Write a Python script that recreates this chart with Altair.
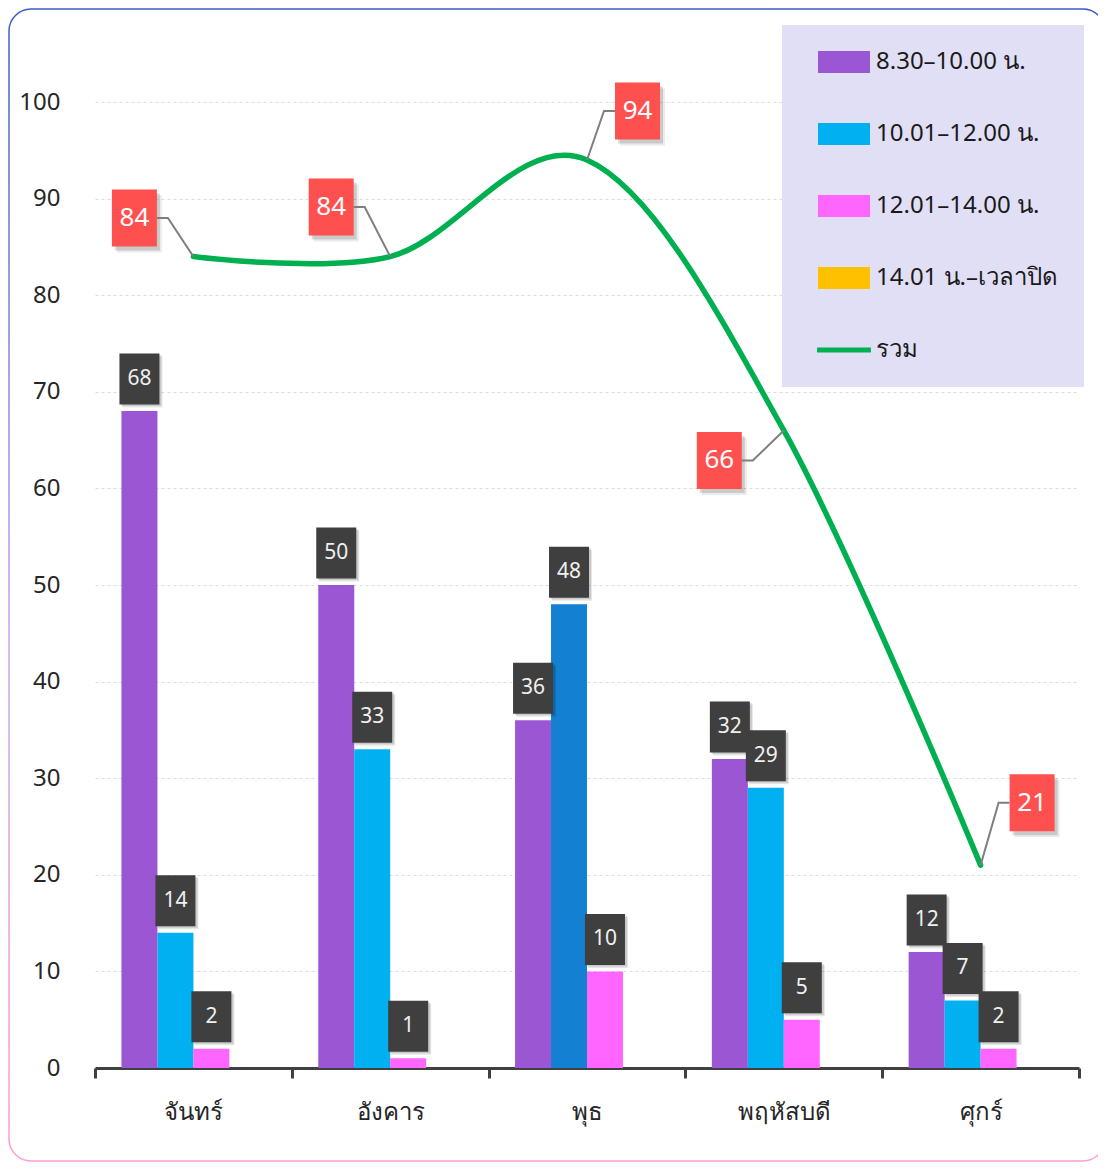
import altair as alt
import pandas as pd

# ---------------- data ----------------
days = ["จันทร์", "อังคาร", "พุธ", "พฤหัสบดี", "ศุกร์"]
series_names = ["8.30–10.00 น.", "10.01–12.00 น.", "12.01–14.00 น.", "14.01 น.–เวลาปิด"]
s_0830 = [68, 50, 36, 32, 12]
s_1001 = [14, 33, 48, 29, 7]
s_1201 = [2, 1, 10, 5, 2]
s_1401 = [0, 0, 0, 0, 0]
totals = [84, 84, 94, 66, 21]
total_name = "รวม"

# ---------------- styles ----------------
FONT = "Noto Sans"
bar_colors = ["#9B57D3", "#00B0F0", "#FF66FF", "#FFC000"]
line_color = "#00B050"
highlight_color = "#1380D2"
callout_fill = "#FF5050"
label_box_fill = "#3F3F3F"
# callout box centre offsets (pixels) relative to the total point
callout_dx = [-59, -59, 50.5, -64.5, 51.5]
callout_dy = [-38.5, -49.5, -49, 30, -62.5]

series_values = [s_0830, s_1001, s_1201, s_1401]
rows = []
for si, name in enumerate(series_names):
    for di, d in enumerate(days):
        rows.append({"day": d, "series": name, "value": series_values[si][di]})
bars_df = pd.DataFrame(rows)
tot_df = pd.DataFrame({"day": days, "value": totals})

x_enc = alt.X(
    "day:N", sort=days,
    scale=alt.Scale(paddingInner=0, paddingOuter=0),
    axis=alt.Axis(title=None, labelFontSize=24, labelColor="#262626", labelFont=FONT,
                  labelPadding=22, labelAngle=0, domainColor="#404040", domainWidth=3,
                  tickColor="#404040", tickWidth=3, tickSize=10, tickBand="extent", grid=False),
)
y_enc = alt.Y(
    "value:Q",
    scale=alt.Scale(domain=[0, 100], nice=False),
    axis=alt.Axis(title=None, values=list(range(0, 101, 10)), labelFontSize=24,
                  labelColor="#262626", labelFont=FONT, labelPadding=35, domain=False,
                  ticks=False, gridColor="#DCDCDC", gridDash=[3, 3], gridWidth=1),
)
xoff = alt.XOffset("series:N", sort=series_names,
                   scale=alt.Scale(paddingInner=0, paddingOuter=0.736))

rect_shape = "M-2.364,-1H2.364V1H-2.364Z"
line_shape = "M-2.45,-0.23H2.45V0.23H-2.45Z"
legend = alt.Legend(
    title=None, orient="none", legendX=687, legendY=-77, fillColor="#E1DFF5",
    padding=25, rowPadding=48, labelFontSize=24, labelColor="#1A1A1A", labelFont=FONT,
    symbolSize=484, symbolOffset=25, labelOffset=20, labelLimit=400, symbolOpacity=1,
    symbolType=alt.ExprRef(expr=f"datum.value === '{total_name}' ? '{line_shape}' : '{rect_shape}'"),
)
color_enc = alt.condition(
    f"datum.day === '{days[2]}' && datum.series === '{series_names[1]}'",
    alt.value(highlight_color),
    alt.Color("series:N",
              scale=alt.Scale(domain=series_names + [total_name], range=bar_colors + [line_color]),
              legend=legend),
)

bars = alt.Chart(bars_df).mark_bar(size=36).encode(
    x=x_enc, xOffset=xoff, y=y_enc, color=color_enc)

lab_src = alt.Chart(bars_df).transform_filter("datum.value > 0")
lab_shadow1 = lab_src.mark_point(shape="M-17,-54.5H23V-3.5H-17Z", size=4, filled=True,
                                 color="#000000", opacity=0.10, strokeWidth=0
                                 ).encode(x=x_enc, xOffset=xoff, y=y_enc)
lab_shadow2 = lab_src.mark_point(shape="M-18,-56H22V-5H-18Z", size=4, filled=True,
                                 color="#000000", opacity=0.12, strokeWidth=0
                                 ).encode(x=x_enc, xOffset=xoff, y=y_enc)
lab_box = lab_src.mark_point(shape="M-20,-57.5H20V-6.5H-20Z", size=4, filled=True,
                             color=label_box_fill, opacity=1, strokeWidth=0
                             ).encode(x=x_enc, xOffset=xoff, y=y_enc)
lab_text = lab_src.mark_text(dy=-32, fontSize=21, color="#F0F0F0", font=FONT,
                             baseline="middle", align="center"
                             ).encode(x=x_enc, xOffset=xoff, y=y_enc, text="value:Q")

line = alt.Chart(tot_df).mark_line(interpolate="cardinal", tension=0, color=line_color,
                                   strokeWidth=5.5, strokeCap="round"
                                   ).encode(x=x_enc, y=y_enc)

callouts = []
for i, d in enumerate(days):
    dx, dy = callout_dx[i], callout_dy[i]
    src = alt.Chart(tot_df).transform_filter(f"datum.day === '{d}'")
    x0, x1 = dx - 22.5, dx + 22.5
    y0, y1 = dy - 28.5, dy + 28.5
    if dx < 0:
        edge, elbow = x1, x1 + 11
    else:
        edge, elbow = x0, x0 - 11
    box = f"M{x0},{y0}H{x1}V{y1}H{x0}Z"
    sh1 = f"M{x0+3},{y0+4}H{x1+3}V{y1+4}H{x0+3}Z"
    sh2 = f"M{x0+5},{y0+6}H{x1+5}V{y1+6}H{x0+5}Z"
    lead = f"M{edge},{dy}H{elbow}L0,0"
    callouts += [
        src.mark_point(shape=sh2, size=4, filled=True, color="#000000", opacity=0.08,
                       strokeWidth=0).encode(x=x_enc, y=y_enc),
        src.mark_point(shape=sh1, size=4, filled=True, color="#000000", opacity=0.14,
                       strokeWidth=0).encode(x=x_enc, y=y_enc),
        src.mark_point(shape=lead, size=4, filled=False, color="#7F7F7F", opacity=1,
                       strokeWidth=2).encode(x=x_enc, y=y_enc),
        src.mark_point(shape=box, size=4, filled=True, color=callout_fill, opacity=1,
                       strokeWidth=0).encode(x=x_enc, y=y_enc),
        src.mark_text(dx=dx, dy=dy, fontSize=26, color="#FFFFFF", font=FONT,
                      baseline="middle", align="center").encode(x=x_enc, y=y_enc, text="value:Q"),
    ]

frame = alt.Chart(pd.DataFrame({"k": [0]})).mark_rect(
    fill="transparent", cornerRadius=22, strokeWidth=1.5,
    stroke=alt.LinearGradient(gradient="linear", x1=0, y1=0, x2=0, y2=1,
                              stops=[alt.GradientStop(offset=0, color="#3A5CC8"),
                                     alt.GradientStop(offset=0.55, color="#C9A6E8"),
                                     alt.GradientStop(offset=1, color="#FF9CD9")]),
).encode(x=alt.value(-86), x2=alt.value(1010), y=alt.value(-93), y2=alt.value(1059))

chart = alt.layer(
    bars, lab_shadow2, lab_shadow1, lab_box, lab_text, line, *callouts, frame
).properties(
    width=984, height=966,
    autosize=alt.AutoSizeParams(type="none"),
    padding={"left": 87, "top": 94, "right": 19, "bottom": 95},
).configure(font=FONT).configure_view(stroke=None)

chart.save("out.html", embed_options={"renderer": "svg", "actions": False})
